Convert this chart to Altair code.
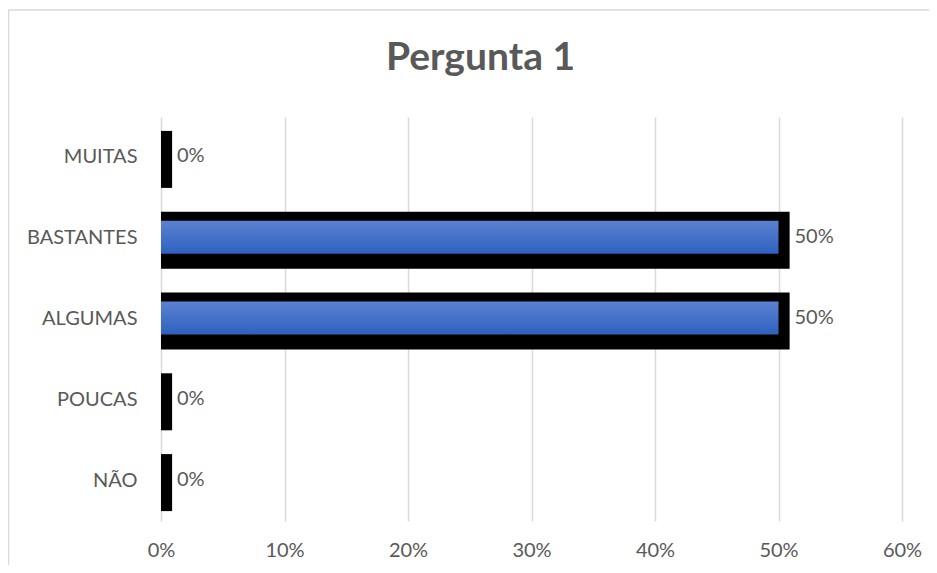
import altair as alt
import pandas as pd

categories = ["MUITAS", "BASTANTES", "ALGUMAS", "POUCAS", "NÃO"]
values = [0.0, 0.5, 0.5, 0.0, 0.0]
labels = ["0%", "50%", "50%", "0%", "0%"]
x_ticks = [0, 0.1, 0.2, 0.3, 0.4, 0.5, 0.6]

df = pd.DataFrame({"cat": categories, "value": values, "label": labels})

FONT = "Lato"
TXT = "#595959"

y_enc = alt.Y("cat:N", sort=categories, title=None,
              scale=alt.Scale(paddingInner=0, paddingOuter=0),
              axis=alt.Axis(labelFontSize=20, labelColor=TXT, labelFont=FONT,
                            labelPadding=24, ticks=False, domain=False))
x_scale = alt.Scale(domain=[0, 0.6], nice=False)

base = alt.Chart(df)

shadow = base.transform_calculate(ext="datum.value + 0.009").mark_bar(
    color="black", height=57, yOffset=2
).encode(
    x=alt.X("ext:Q", scale=x_scale, title=None,
            axis=alt.Axis(format=".0%", values=x_ticks, labelFontSize=20,
                          labelColor=TXT, labelFont=FONT, labelPadding=19,
                          labelFlush=False,
                          ticks=False, domain=False, grid=True,
                          gridColor="#d9d9d9", gridWidth=1.5)),
    y=y_enc,
)

blue = base.mark_bar(
    height=33, yOffset=-1,
    color=alt.Gradient(gradient="linear",
                       stops=[alt.GradientStop(color="#5b81d1", offset=0),
                              alt.GradientStop(color="#2e62bf", offset=1)],
                       x1=0, x2=0, y1=0, y2=1),
).encode(
    x=alt.X("value:Q", scale=x_scale),
    y=alt.Y("cat:N", sort=categories),
)

text = base.mark_text(align="left", baseline="middle", dx=16, dy=-1,
                      fontSize=20, font=FONT, color=TXT).encode(
    x=alt.X("value:Q", scale=x_scale),
    y=alt.Y("cat:N", sort=categories),
    text="label:N",
)

frame = alt.Chart(alt.Data(values=[{}])).mark_rect(
    fill="white", fillOpacity=0, stroke="#d9d9d9", strokeWidth=1.5
).encode(
    x=alt.value(-152.5), x2=alt.value(900), y=alt.value(-107), y2=alt.value(600)
)

chart = alt.layer(frame, shadow, blue, text).properties(
    width=741, height=404,
    padding={"left": 153, "top": 109, "right": 27, "bottom": 44},
    autosize=alt.AutoSizeParams(type="none"),
    title=alt.TitleParams("Pergunta 1", fontSize=39, font=FONT, fontWeight="bold",
                          color=TXT, anchor="middle", dx=-51, offset=-68.5,
                          frame="group"),
).configure_view(stroke=None)

chart.save("out.html", embed_options={"renderer": "svg", "actions": False})
